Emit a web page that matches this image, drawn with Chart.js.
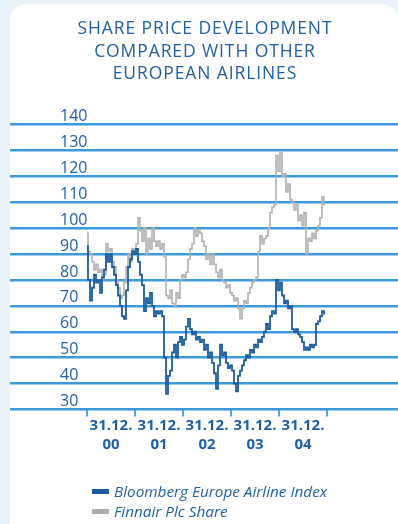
<!DOCTYPE html>
<html>
<head>
<meta charset="utf-8">
<script src="https://cdn.jsdelivr.net/npm/chart.js@4/dist/chart.umd.min.js"></script>
<style>
  html, body { margin: 0; padding: 0; }
  body { width: 398px; height: 524px; background: #e8f3fa; position: relative; overflow: hidden; }
  .panel { position: absolute; left: 10px; top: 4px; width: 388px; height: 540px; background: #ffffff; border-radius: 16px; }
  canvas { position: absolute; left: 0; top: 0; }
  .title { position: absolute; left: 0; top: 16px; width: 410px; text-align: center;
           font-family: "Open Sans", sans-serif; font-size: 17.5px; letter-spacing: 0.9px;
           line-height: 22.5px; color: #1f5f9f; }
  .legend { position: absolute; left: 92px; top: 481px; font-family: "Open Sans", sans-serif;
            font-style: italic; font-size: 15.3px; line-height: 20px; color: #1f5f9f; }
  .legend div { display: flex; align-items: center; }
  .legend i { display: inline-block; width: 17px; height: 5px; margin-right: 5px; }
</style>
</head>
<body>
<div class="panel"></div>
<canvas id="c" width="398" height="524"></canvas>
<div class="title">SHARE PRICE DEVELOPMENT<br>COMPARED WITH OTHER<br>EUROPEAN AIRLINES</div>
<div class="legend">
  <div><i style="background:#1d5c9c"></i>Bloomberg Europe Airline Index</div>
  <div><i style="background:#adadb0"></i>Finnair Plc Share</div>
</div>
<script>
// Half-monthly closing levels, 31.12.1999 = start, indexed (start of 2000 ~ 100)
const bloomberg = [
  93, 80, 72, 77, 82, 79, 80, 75, 81, 84, 90, 87, 90, 85, 82, 78, 74, 70, 66, 65,
  76, 85, 88, 91, 90, 92, 87, 82, 78, 68, 73, 71, 75, 70, 66, 68, 67, 68, 66, 50,
  36, 43, 45, 52, 55, 50, 56, 58, 55, 57, 62, 65, 61, 59, 60, 57, 58, 56, 57, 53,
  55, 50, 52, 48, 44, 38, 47, 55, 51, 52, 48, 46, 47, 45, 40, 37, 43, 45, 47, 49,
  51, 50, 53, 52, 55, 54, 57, 56, 58, 60, 63, 61, 66, 68, 67, 80, 76, 79, 74, 71,
  72, 69, 70, 61, 60, 61, 59, 58, 56, 53, 54, 53, 55, 54, 55, 63, 64, 66, 68, 67
];
const finnair = [
  98, 91, 90, 87, 84, 86, 83, 84, 80, 82, 94, 91, 92, 87, 85, 80, 77, 73, 74, 79,
  85, 90, 87, 92, 90, 94, 104, 99, 95, 100, 90, 96, 92, 100, 95, 93, 95, 92, 94, 89,
  74, 73, 76, 71, 70, 75, 73, 80, 82, 81, 83, 88, 92, 94, 100, 97, 99, 98, 95, 93,
  88, 90, 86, 90, 86, 83, 81, 84, 80, 79, 77, 78, 75, 74, 72, 73, 69, 65, 69, 72,
  71, 75, 77, 79, 80, 81, 91, 97, 94, 96, 97, 100, 106, 108, 109, 128, 122, 129, 120, 121,
  114, 117, 111, 110, 107, 109, 103, 105, 101, 106, 90, 96, 95, 98, 96, 99, 101, 104, 112, 109
];
// year-end markers (x = years after 31.12.1999) and labels centred on each year
const yearEnds = [0, 1, 2, 3, 4, 5];
const yearLabels = ['00', '01', '02', '03', '04'];
const stepsPerYear = 24;

const blue = '#1d5c9c';
const gray = '#b0b0b3';
const textBlue = '#1f5f9f';
const gridBlue = '#3b9ad9';

const toPoints = vals => vals.map((v, i) => ({ x: i / stepsPerYear, y: v }));

const tickValues = [];
yearEnds.forEach((v, i) => {
  tickValues.push(v);
  if (i < yearLabels.length) tickValues.push(v + 0.5);
});

new Chart(document.getElementById('c'), {
  type: 'line',
  data: {
    datasets: [
      { label: 'Bloomberg Europe Airline Index', data: toPoints(bloomberg), borderColor: blue,
        borderWidth: 1.8, pointRadius: 0, stepped: 'middle', order: 0 },
      { label: 'Finnair Plc Share', data: toPoints(finnair), borderColor: gray,
        borderWidth: 1.6, pointRadius: 0, stepped: 'middle', order: 1 }
    ]
  },
  options: {
    responsive: false,
    animation: false,
    layout: { padding: { left: 10, right: 0, top: 124.5, bottom: 54.5 } },
    plugins: { legend: { display: false }, title: { display: false }, tooltip: { enabled: false } },
    scales: {
      x: {
        type: 'linear',
        min: -77 / 48,
        max: -77 / 48 + 388 / 48,
        afterBuildTicks: s => { s.ticks = tickValues.map(v => ({ value: v })); },
        afterFit: s => { s.height = 60; },
        ticks: {
          autoSkip: false, maxRotation: 0, padding: 0,
          color: textBlue,
          font: { family: 'Open Sans', size: 15, weight: 'bold', lineHeight: 1.27 },
          callback: v => {
            if (Number.isInteger(v)) return '';
            return ['31.12.', yearLabels[Math.floor(v)]];
          }
        },
        grid: {
          drawOnChartArea: false, tickLength: 7, lineWidth: 2,
          tickColor: c => (c.tick && Number.isInteger(c.tick.value)) ? '#5aa8de' : 'rgba(0,0,0,0)'
        },
        border: { display: false }
      },
      y: {
        min: 30, max: 140,
        afterFit: s => { s.width = 0; },
        ticks: {
          stepSize: 10, mirror: true, padding: 50, labelOffset: -8,
          color: textBlue, font: { family: 'Open Sans', size: 16 }
        },
        grid: { color: gridBlue, lineWidth: 2.4, drawTicks: false },
        border: { display: false }
      }
    }
  }
});
</script>
</body>
</html>
